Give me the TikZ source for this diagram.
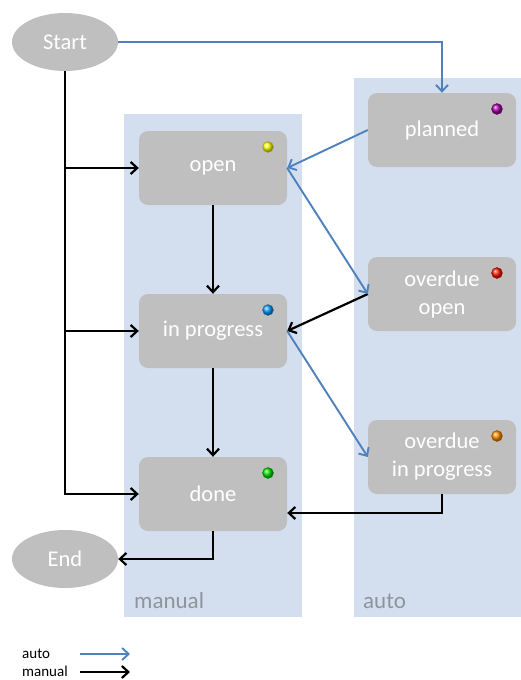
\documentclass[tikz,border=0pt]{standalone}
\usepackage{fontspec}
\setmainfont{Carlito}
\usetikzlibrary{arrows.meta,calc,shapes.geometric}
\definecolor{boxgray}{HTML}{BFBFBF}
\definecolor{lanefill}{HTML}{D3DFEE}
\definecolor{autoblue}{HTML}{4F81BD}
\definecolor{lanetext}{HTML}{8E949B}
\tikzset{
  state/.style={rectangle, rounded corners=9pt, fill=boxgray, text=white,
    minimum width=148pt, minimum height=74pt, font=\fontsize{22.5}{28}\selectfont, align=center, inner sep=0pt},
  term/.style={ellipse, fill=boxgray, text=white, minimum width=106pt, minimum height=58pt,
    font=\fontsize{22.5}{28}\selectfont, inner sep=0pt},
  lane/.style={fill=lanefill, draw=none},
  manualarr/.style={draw=black, line width=2.2pt, -{Straight Barb[length=6.5pt,width=12pt,line width=2.2pt]}},
  autoarr/.style={draw=autoblue, line width=1.9pt, -{Straight Barb[length=6.5pt,width=12pt,line width=1.9pt]}},
  dot/.style={circle, minimum size=11pt, inner sep=0pt, draw=#1!60!black, line width=0.4pt, shading=ball, ball color=#1},
  lanelabel/.style={text=lanetext, font=\fontsize{23}{26}\selectfont, anchor=base west, inner sep=0pt},
  legendtext/.style={font=\fontsize{15}{17}\selectfont, anchor=west, inner sep=0pt}
}
\begin{document}
\begin{tikzpicture}[x=1pt,y=-1pt]
\useasboundingbox (0,0) rectangle (521,680);
\fill[white] (0,0) rectangle (521,680);
% lanes
\path[lane] (124,114) rectangle (302,617);
\path[lane] (354,78) rectangle (521,617);
\node[lanelabel] (lmanual) at (134,608) {manual};
\node[lanelabel] (lauto) at (363,608) {auto};
% states
\node[term] (start) at (65,42) {Start};
\node[term] (end) at (65,559) {End};
\node[state] (open) at (213,168) {open};
\node[state] (inprog) at (213,331) {in progress};
\node[state] (done) at (213,494) {done};
\node[state] (planned) at (442,130) {planned};
\node[state] (odopen) at (442,294) {overdue\\open};
\node[state] (odinprog) at (442,457) {overdue\\in progress};
% dots
\node[dot=yellow] (d1) at (268,147) {};
\node[dot=cyan!60!blue] (d2) at (268,310) {};
\node[dot=green!90!black] (d3) at (268,473) {};
\node[dot=violet!70!magenta] (d4) at (497,109) {};
\node[dot=red!80!orange] (d5) at (497,273) {};
\node[dot=orange!90!yellow] (d6) at (497,436) {};
% manual connectors
\draw[manualarr] (start.south) |- (done.west);
\draw[manualarr] (start.south |- open.west) -- (open.west);
\draw[manualarr] (start.south |- inprog.west) -- (inprog.west);
\draw[manualarr] (open.south) -- (inprog.north);
\draw[manualarr] (inprog.south) -- (done.north);
\draw[manualarr] (odopen.west) -- (inprog.east);
\draw[manualarr] (odinprog.south) |- ($(done.east)+(0,19)$);
\draw[manualarr] (done.south) |- (end.east);
% auto connectors
\draw[autoarr] (start.east) -| (planned.north);
\draw[autoarr] (planned.west) -- (open.east);
\draw[autoarr] (open.east) -- (odopen.west);
\draw[autoarr] (inprog.east) -- (odinprog.west);
% legend
\node[legendtext] (legauto) at (22,654) {auto};
\node[legendtext] (legman) at (22,671) {manual};
\coordinate (la1) at (80,654); \coordinate (la2) at (130,654);
\coordinate (lm1) at (80,672); \coordinate (lm2) at (130,672);
\draw[autoarr, line width=2.6pt] (la1) -- (la2);
\draw[manualarr, line width=2.8pt] (lm1) -- (lm2);
\end{tikzpicture}
\end{document}
